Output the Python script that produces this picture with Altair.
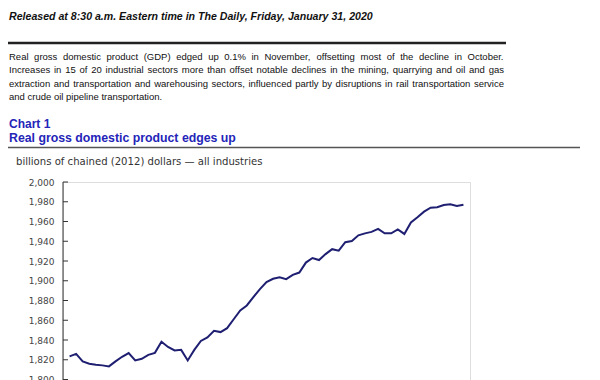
import altair as alt
import pandas as pd

# ---- data -------------------------------------------------------------
months = [p.strftime("%Y-%m") for p in pd.period_range("2014-11", "2019-11", freq="M")]
gdp = [1823.4, 1826.0, 1818.3, 1816.0, 1815.0, 1814.3, 1813.3, 1818.3, 1823.0, 1826.8,
       1819.3, 1821.0, 1825.0, 1827.0, 1838.2, 1833.0, 1829.4, 1830.0, 1819.3, 1830.0,
       1839.0, 1842.6, 1849.3, 1848.0, 1852.0, 1861.0, 1870.0, 1875.0, 1883.4, 1891.5,
       1898.6, 1902.0, 1903.6, 1901.6, 1906.0, 1908.3, 1918.4, 1923.0, 1921.0, 1927.0,
       1932.0, 1930.5, 1939.0, 1940.3, 1946.0, 1948.0, 1949.5, 1952.5, 1948.0, 1948.0,
       1952.0, 1947.4, 1959.0, 1964.3, 1970.0, 1974.0, 1974.4, 1976.7, 1977.4, 1975.7,
       1977.0]
y_ticks = list(range(1760, 2001, 20))

header = "Released at 8:30 a.m. Eastern time in The Daily, Friday, January 31, 2020"
paragraph = [
    "Real gross domestic product (GDP) edged up 0.1% in November, offsetting most of the decline in October.",
    "Increases in 15 of 20 industrial sectors more than offset notable declines in the mining, quarrying and oil and gas",
    "extraction and transportation and warehousing sectors, influenced partly by disruptions in rail transportation service",
    "and crude oil pipeline transportation.",
]
chart_no = "Chart 1"
chart_title = "Real gross domestic product edges up"
unit_label = "billions of chained (2012) dollars \u2014 all industries"

df = pd.DataFrame({"month": months, "gdp": gdp})
ticks_df = pd.DataFrame({"v": y_ticks})

# plot area origin is at page (63, 182)
OX, OY = 63, 182
PLOT_W, PLOT_H = 407, 237
yscale = alt.Scale(domain=[1760, 2000], nice=False, zero=False)
yaxis = alt.Axis(values=y_ticks, format=",d", title=None, grid=False, ticks=False,
                 domain=False, labelPadding=9, labelFont="DejaVu Sans",
                 labelFontSize=9, labelColor="#444", labelOverlap=False)

# Arial / Liberation Sans advance widths (1/1000 em) used to justify the paragraph
_W = {" ": 278, "!": 278, "(": 333, ")": 333, "%": 889, ",": 278, "-": 333, ".": 278,
      ":": 278, "/": 278}
_W.update({d: 556 for d in "0123456789"})
_W.update(dict(zip("ABCDEFGHIJKLMNOPQRSTUVWXYZ",
                   [667, 667, 722, 722, 667, 611, 778, 722, 278, 500, 667, 556, 833, 722,
                    778, 667, 778, 722, 667, 611, 722, 667, 944, 667, 667, 611])))
_W.update(dict(zip("abcdefghijklmnopqrstuvwxyz",
                   [556, 556, 500, 556, 556, 278, 556, 556, 222, 222, 500, 222, 833, 556,
                    556, 556, 556, 333, 500, 278, 556, 500, 722, 500, 500, 500])))


def text_width(s, size):
    return sum(_W.get(c, 556) for c in s) * size / 1000.0


PARA_SIZE = 9.5
PARA_LEFT, PARA_RIGHT = 9, 504


def justified_line(txt, py, justify):
    words = txt.split(" ")
    widths = [text_width(w, PARA_SIZE) for w in words]
    if justify and len(words) > 1:
        gap = (PARA_RIGHT - PARA_LEFT - sum(widths)) / (len(words) - 1)
    else:
        gap = text_width(" ", PARA_SIZE)
    xs, cur = [], PARA_LEFT
    for w in widths:
        xs.append(cur - OX)
        cur += w + gap
    wdf = pd.DataFrame({"word": words, "xp": xs})
    return alt.Chart(wdf).mark_text(
        align="left", baseline="alphabetic", font="Liberation Sans", fontSize=PARA_SIZE,
        color="#111"
    ).encode(text="word:N", x=alt.X("xp:Q", scale=None), y=alt.value(py - OY))


line = alt.Chart(df).mark_line(color="#1f1f72", strokeWidth=2).encode(
    x=alt.X("month:O", sort=None, scale=alt.Scale(type="point", padding=1.07), axis=None),
    y=alt.Y("gdp:Q", scale=yscale, axis=yaxis),
)

tick_rules = alt.Chart(ticks_df).mark_rule(color="#333", strokeWidth=1).encode(
    y=alt.Y("v:Q", scale=yscale, axis=yaxis), x=alt.value(0), x2=alt.value(5)
)


def text_layer(txt, px, py, **kw):
    return alt.Chart(pd.DataFrame({"t": [txt]})).mark_text(
        align="left", baseline="alphabetic", **kw
    ).encode(text="t:N", x=alt.value(px - OX), y=alt.value(py - OY))


def hrule(x1, x2, y, color, width):
    return alt.Chart(pd.DataFrame({"t": [0]})).mark_rule(color=color, strokeWidth=width).encode(
        x=alt.value(x1 - OX), x2=alt.value(x2 - OX), y=alt.value(y - OY)
    )


left_border = alt.Chart(pd.DataFrame({"t": [0]})).mark_rule(color="#333", strokeWidth=1).encode(
    x=alt.value(0), y=alt.value(0), y2=alt.value(PLOT_H)
)

para_layers = [
    justified_line(t, 60 + 13.3 * i, i < len(paragraph) - 1) for i, t in enumerate(paragraph)
]

layers = [
    text_layer(header, 9, 19.5, font="Liberation Sans", fontSize=10.6, fontWeight="bold",
               fontStyle="italic", color="#111"),
    hrule(8, 506, 43, "#222", 2.5),
    *para_layers,
    text_layer(chart_no, 9, 128, font="Liberation Sans", fontSize=12, fontWeight="bold",
               color="#2424b8"),
    text_layer(chart_title, 9, 142, font="Liberation Sans", fontSize=12.3, fontWeight="bold",
               color="#2424b8"),
    hrule(8, 580, 147.5, "#555", 1.5),
    text_layer(unit_label, 16, 164.5, font="DejaVu Sans", fontSize=10.1, color="#333"),
    left_border,
    tick_rules,
    line,
]

chart = alt.layer(*layers).properties(
    width=PLOT_W, height=PLOT_H,
    autosize=alt.AutoSizeParams(type="none"),
    padding={"left": OX - 8, "top": OY - 8, "right": 120, "bottom": 10},
).configure_view(stroke="#555", strokeWidth=1).configure(background="white")

chart.save("out.html", embed_options={"renderer": "svg", "actions": False})
